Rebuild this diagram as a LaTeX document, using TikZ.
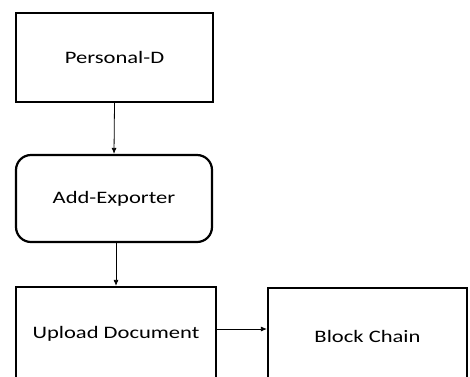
\documentclass[tikz,border=0pt]{standalone}
\usepackage{fontspec}
\setmainfont{Carlito}
\usetikzlibrary{arrows.meta}
\tikzset{
  boxstyle/.style={draw=black, line width=2.2pt, fill=white, inner sep=0pt, font=\fontsize{17.5}{20}\selectfont},
  roundbox/.style={boxstyle, rounded corners=15pt},
  conn/.style={line width=0.8pt, -{Latex[length=6pt,width=5pt]}}
}
\newcommand{\wtext}[1]{\scalebox{1.29}[1]{#1}}
\begin{document}
\begin{tikzpicture}[x=1pt,y=-1pt]
\useasboundingbox (0,0) rectangle (470,376);
\clip (0,0) rectangle (470,376);
\node[boxstyle, minimum width=197pt, minimum height=89pt] (pd) at (114.5,57.5) {\wtext{Personal-D}};
\node[roundbox, minimum width=196pt, minimum height=87pt] (ae) at (114,198.5) {\wtext{Add-Exporter}};
\node[boxstyle, minimum width=200pt, minimum height=94pt] (up) at (116,334) {\wtext{Upload Document}};
\node[boxstyle, minimum width=199pt, minimum height=96pt] (bc) at (367.5,336) {\wtext{Block Chain}};
\draw[conn] (pd.south) -- (ae.north);
\draw[conn] (ae.south -| up.north) -- (up.north);
\coordinate (hy) at (0,329);
\draw[conn] (up.east |- hy) -- (bc.west |- hy);
\end{tikzpicture}
\end{document}
